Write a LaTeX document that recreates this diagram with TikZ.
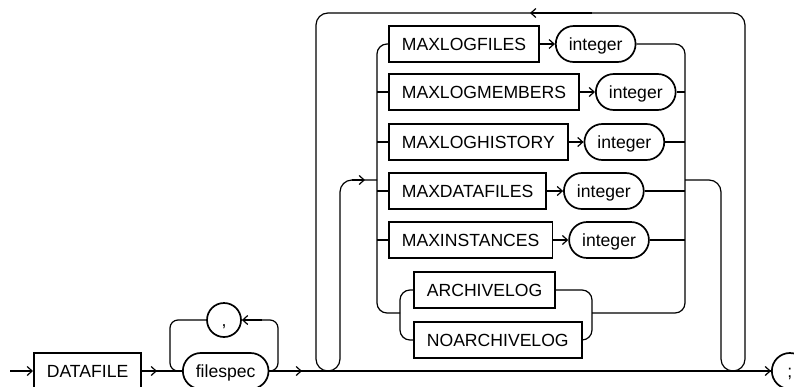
\documentclass[tikz,border=0pt]{standalone}
\usepackage{fontspec}
\setmainfont{Liberation Sans}
\usetikzlibrary{arrows.meta,positioning}

\begin{document}
\begin{tikzpicture}[x=1pt,y=-1pt,
    kw/.style={draw, line width=1.7pt, minimum height=36pt, inner xsep=13pt, inner ysep=0pt,
        text height=12.5pt, text depth=0pt, font=\fontsize{17.6}{20}\selectfont},
    var/.style={kw, rounded corners=18pt},
    sym/.style={draw, circle, line width=1.7pt, minimum size=34pt, inner sep=0pt,
        text height=12.5pt, text depth=0pt, font=\fontsize{17.6}{20}\selectfont},
    rail/.style={line width=1.2pt, rounded corners=10pt},
    arr/.style={line width=1.2pt, -{Straight Barb[length=5pt,width=9pt]}}]
\useasboundingbox (0,0) rectangle (794,386);

\node[kw, anchor=west] (datafile) at (33,371) {DATAFILE};
\node[var, anchor=west] (filespec) at (182,371) {filespec};
\node[sym] (comma) at (224,320) {,};
\node[sym, minimum size=36pt, anchor=west] (semi) at (771,371) {;};

\node[kw, anchor=west] (mlf) at (388,44) {MAXLOGFILES};
\node[var, right=15pt of mlf] (int1) {integer};
\node[kw, anchor=west] (mlm) at (388,92) {MAXLOGMEMBERS};
\node[var, right=15pt of mlm] (int2) {integer};
\node[kw, anchor=west] (mlh) at (388,142) {MAXLOGHISTORY};
\node[var, right=15pt of mlh] (int3) {integer};
\node[kw, anchor=west] (mdf) at (388,191) {MAXDATAFILES};
\node[var, right=16pt of mdf] (int4) {integer};
\node[kw, anchor=west] (mis) at (388,240) {MAXINSTANCES};
\node[var, right=15pt of mis] (int5) {integer};
\node[kw, anchor=west] (arch) at (413,290) {ARCHIVELOG};
\node[kw, anchor=west] (noarch) at (413,340) {NOARCHIVELOG};

\coordinate (start) at (10,371);
\coordinate (cL) at (170,320);
\coordinate (cR) at (278,320);
\coordinate (cTip) at (262,320);
\coordinate (dTip) at (157,371);
\coordinate (fTip) at (302,371);
\coordinate (lrail) at (377,313);
\coordinate (rrail) at (685,313);
\coordinate (split) at (400,313);
\coordinate (merge) at (592,313);
\coordinate (inL) at (340,180);
\coordinate (inArr) at (352,180);
\coordinate (inTip) at (365,180);
\coordinate (outR) at (721,180);
\coordinate (loopTL) at (316,13);
\coordinate (loopTR) at (745,13);
\coordinate (topTip) at (530,13);

\draw[arr] (start) -- (datafile);
\draw[rail] (datafile) -- (filespec);
\draw[arr] (datafile.east) -- (dTip);
\draw[rail, rounded corners=8pt] (filespec.east) -| (cR) -- (cTip);
\draw[arr] (cTip) -- (comma);
\draw[rail, rounded corners=8pt] (comma) -- (cL) |- (filespec.west);
\draw[rail] (filespec) -- (semi);
\draw[arr] (filespec.east) -- (fTip);
\draw[arr] (fTip) -- (semi);

\draw[rail, rounded corners=12pt] (outR |- semi) -| (loopTR) -| (loopTL |- semi) -- (inL |- semi);
\draw[arr] (loopTR -| merge) -- (topTip);
\draw[rail, rounded corners=12pt] (loopTL |- semi) -| (inL) -- (inL -| lrail);
\draw[arr] (inArr) -- (inTip);
\draw[rail, rounded corners=12pt] (outR -| rrail) -| (outR |- semi) -- (loopTR |- semi);

\draw[rail] (mlf.west) -| (lrail) -- (split);
\foreach \n in {mlm,mlh,mdf,mis}
    \draw[rail] (\n.west) -- (\n.west -| lrail);
\draw[rail] (int1.east) -| (rrail) -- (merge);
\foreach \n in {int2,int3,int4,int5}
    \draw[rail] (\n.east) -- (\n.east -| rrail);
\foreach \a/\b in {mlf/int1,mlm/int2,mlh/int3,mdf/int4,mis/int5}
    \draw[arr] (\a) -- (\b);

\draw[rail] (arch.west) -| (split |- noarch) -- (noarch.west);
\draw[rail] (arch.east) -| (merge |- noarch) -- (noarch.east);
\end{tikzpicture}
\end{document}
